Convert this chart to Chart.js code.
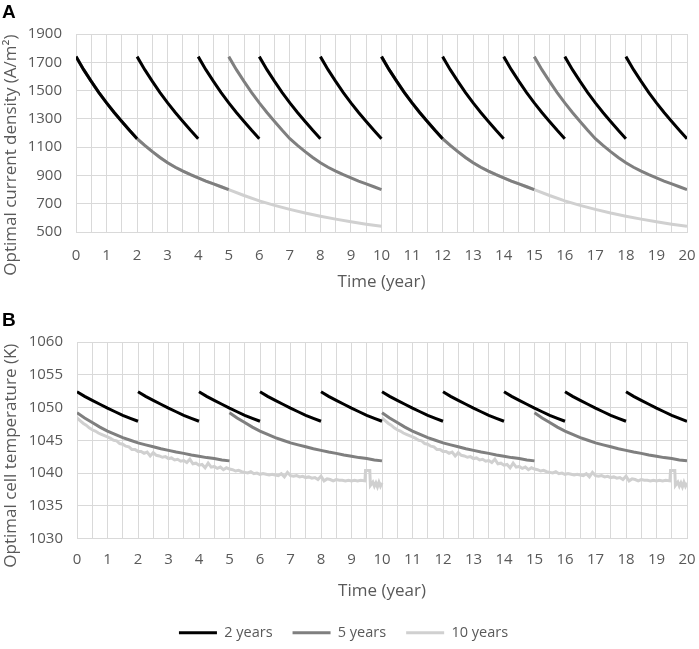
<!DOCTYPE html>
<html>
<head>
<meta charset="utf-8">
<script src="https://cdn.jsdelivr.net/npm/chart.js@4.4.1/dist/chart.umd.min.js"></script>
<style>
  html, body { margin: 0; padding: 0; background: #fff; }
  #page { position: relative; width: 699px; height: 649px; overflow: hidden; }
  canvas { position: absolute; left: 0; }
  .tag { position: absolute; left: 2px; font: bold 19px "Liberation Sans", Arial, sans-serif; line-height: 19px; color: #000; }
</style>
</head>
<body>
<div id="page">
  <canvas id="chartA" width="699" height="300" style="top:0"></canvas>
  <canvas id="chartB" width="699" height="350" style="top:300px"></canvas>
  <div class="tag" style="top:2px">A</div>
  <div class="tag" style="top:310px">B</div>
</div>
<script>
// years since the cell was replaced (one cycle)
const cycleYears = [0, 0.25, 0.5, 0.75, 1, 1.25, 1.5, 1.75, 2, 2.25, 2.5, 2.75, 3, 3.25, 3.5, 3.75, 4, 4.25, 4.5, 4.75, 5,
  5.5, 6, 6.5, 7, 7.5, 8, 8.5, 9, 9.5, 10];

// panel A - optimal current density (A/m2)
const densityTwo = [1740, 1648, 1565, 1486, 1413, 1345, 1282, 1219, 1160];
const densityFive = [1740, 1648, 1565, 1486, 1413, 1345, 1282, 1219, 1160, 1112, 1068, 1027, 990, 958, 930, 905, 882, 860, 840, 820, 800];
const densityTen = [1740, 1648, 1565, 1486, 1413, 1345, 1282, 1219, 1160, 1112, 1068, 1027, 990, 958, 930, 905, 882, 860, 840, 820, 800,
  758, 720, 688, 660, 634, 612, 591, 572, 555, 540];

// panel B - optimal cell temperature (K)
const tempTwo = [1052.4, 1051.7, 1051.1, 1050.5, 1049.9, 1049.35, 1048.8, 1048.35, 1047.9];
const tempFive = [1049.2, 1048.4, 1047.7, 1047.0, 1046.4, 1045.9, 1045.4, 1045.0, 1044.6, 1044.3, 1044.0, 1043.7, 1043.45,
  1043.2, 1043.0, 1042.75, 1042.55, 1042.35, 1042.2, 1042.0, 1041.85];
const tenYearTime = [0, 0.1, 0.2, 0.3, 0.4, 0.5, 0.6, 0.7, 0.8, 0.9, 1, 1.1, 1.2, 1.3, 1.4, 1.5, 1.6, 1.7, 1.8, 1.9,
  2, 2.1, 2.2, 2.3, 2.4, 2.5, 2.6, 2.7, 2.8, 2.9, 3, 3.1, 3.2, 3.3, 3.4, 3.5, 3.6, 3.7, 3.8, 3.9,
  4, 4.1, 4.2, 4.3, 4.4, 4.5, 4.6, 4.7, 4.8, 4.9, 5, 5.1, 5.2, 5.3, 5.4, 5.5, 5.6, 5.7, 5.8, 5.9,
  6, 6.1, 6.2, 6.3, 6.4, 6.5, 6.6, 6.7, 6.8, 6.9, 7, 7.1, 7.2, 7.3, 7.4, 7.5, 7.6, 7.7, 7.8, 7.9,
  8, 8.1, 8.2, 8.3, 8.4, 8.5, 8.6, 8.7, 8.8, 8.9, 9, 9.1, 9.2, 9.3, 9.44, 9.46, 9.6, 9.62,
  9.7, 9.75, 9.8, 9.85, 9.9, 9.95, 10];
const tempTen = [1048.4, 1048.0, 1047.6, 1047.3, 1046.9, 1046.6, 1046.4, 1046.1, 1045.9, 1045.7,
  1045.5, 1045.3, 1045.0, 1044.9, 1044.5, 1044.4, 1044.1, 1044.0, 1043.6, 1043.6,
  1043.3, 1043.3, 1043.0, 1043.2, 1042.6, 1043.1, 1042.7, 1042.6, 1042.4, 1042.5,
  1042.2, 1042.3, 1042.0, 1042.1, 1041.8, 1041.9, 1041.6, 1042.1, 1041.4, 1041.5,
  1041.2, 1041.3, 1040.8, 1041.5, 1040.9, 1041.0, 1040.7, 1040.9, 1040.5, 1040.8,
  1040.6, 1040.5, 1040.3, 1040.4, 1040.2, 1040.1, 1040.0, 1040.2, 1039.9, 1040.0,
  1039.8, 1039.9, 1039.8, 1039.7, 1039.8, 1039.7, 1039.6, 1039.9, 1039.4, 1040.1,
  1039.6, 1039.5, 1039.6, 1039.4, 1039.5, 1039.3, 1039.4, 1039.2, 1039.3, 1039.0,
  1039.5, 1038.8, 1039.1, 1039.0, 1038.8, 1039.0, 1038.9, 1038.9, 1038.8, 1038.9,
  1038.8, 1038.9, 1038.8, 1038.9, 1038.8, 1040.4, 1040.4, 1038.1,
  1038.6, 1038.0, 1038.5, 1037.9, 1038.6, 1038.0, 1038.5];

const seriesNames = ['2 years', '5 years', '10 years'];
const seriesColors = ['#000000', '#7f7f7f', '#d0d0d0'];
const replacePeriod = [2, 5, 10];
const totalYears = 20;

const textColor = '#595959';
const gridColor = '#d9d9d9';
const fontName = '"Open Sans", sans-serif';

// repeat one cycle of read values every replacement period, with a break between cycles
function sawtooth(times, values, period) {
  const pts = [];
  for (let start = 0; start < totalYears; start += period) {
    values.forEach((v, i) => pts.push({ x: start + times[i], y: v }));
    pts.push({ x: start + period, y: null });
  }
  return pts;
}

function makeDatasets(cycles) {
  return cycles.map((c, i) => ({
    label: seriesNames[i],
    data: sawtooth(c[0], c[1], replacePeriod[i]),
    borderColor: seriesColors[i],
    backgroundColor: seriesColors[i],
    borderWidth: 3,
    pointRadius: 0,
    tension: 0,
    spanGaps: false
  }));
}

function makeOptions(o) {
  return {
    responsive: false,
    animation: false,
    events: [],
    layout: { padding: { top: o.padTop, right: 12, left: 0, bottom: 0 } },
    plugins: {
      tooltip: { enabled: false },
      legend: {
        display: o.legend,
        position: 'bottom',
        labels: {
          color: textColor,
          font: { family: fontName, size: 14.5 },
          boxWidth: 38,
          boxHeight: 3,
          padding: 20,
          generateLabels(chart) {
            return Chart.defaults.plugins.legend.labels.generateLabels(chart)
              .map(item => Object.assign(item, { lineWidth: 0 }));
          }
        }
      }
    },
    scales: {
      x: {
        type: 'linear', min: 0, max: totalYears,
        afterFit(scale) { scale.height = o.xHeight; },
        // invisible tick marks push the labels down without widening the side padding
        grid: { color: gridColor, drawTicks: true, tickLength: o.xTickGap, tickColor: 'rgba(0,0,0,0)' },
        border: { color: gridColor },
        ticks: {
          stepSize: 0.5, autoSkip: false, maxRotation: 0, padding: 0,
          color: textColor, font: { family: fontName, size: 15 },
          callback: v => (v % 1 === 0 ? String(v) : '')
        },
        title: {
          display: true, text: 'Time (year)', color: textColor,
          font: { family: fontName, size: 17 }, padding: { top: 0, bottom: o.xTitlePad }
        }
      },
      y: {
        min: o.yMin, max: o.yMax,
        afterFit(scale) { scale.width = o.yWidth; },
        grid: { color: gridColor, drawTicks: false },
        border: { color: gridColor },
        ticks: {
          stepSize: o.yStep, padding: 14,
          color: textColor, font: { family: fontName, size: 15 },
          callback: v => String(v)
        },
        title: {
          display: true, text: o.yTitle, color: textColor,
          font: { family: fontName, size: 17 }, padding: { top: 1, bottom: 0 }
        }
      }
    }
  };
}

new Chart(document.getElementById('chartA'), {
  type: 'line',
  data: {
    datasets: makeDatasets([
      [cycleYears, densityTwo],
      [cycleYears, densityFive],
      [cycleYears, densityTen]
    ])
  },
  options: makeOptions({
    padTop: 34, xHeight: 68, xTickGap: 15, xTitlePad: 8, yWidth: 76,
    yMin: 500, yMax: 1900, yStep: 200,
    yTitle: 'Optimal current density (A/m\u00b2)' + ' '.repeat(10),
    legend: false
  })
});

new Chart(document.getElementById('chartB'), {
  type: 'line',
  data: {
    datasets: makeDatasets([
      [cycleYears, tempTwo],
      [cycleYears, tempFive],
      [tenYearTime, tempTen]
    ])
  },
  options: makeOptions({
    padTop: 42, xHeight: 67, xTickGap: 12, xTitlePad: 4, yWidth: 77,
    yMin: 1030, yMax: 1060, yStep: 5,
    yTitle: 'Optimal cell temperature (K)' + ' '.repeat(7),
    legend: true
  })
});
</script>
</body>
</html>
